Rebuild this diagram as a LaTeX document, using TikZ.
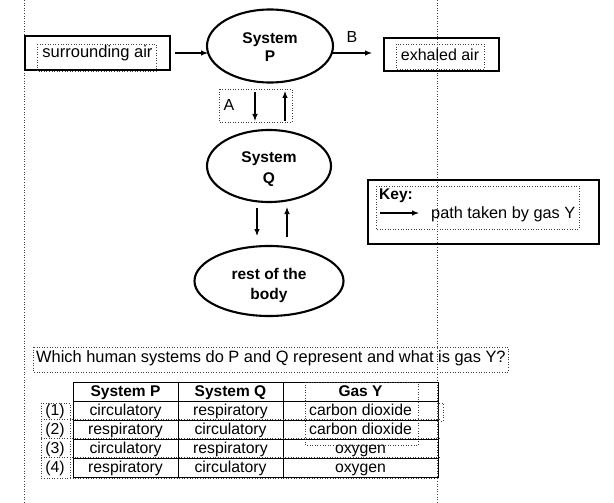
\documentclass[tikz,border=0pt]{standalone}
\usepackage{fontspec}
\setmainfont{Liberation Sans}
\usetikzlibrary{shapes.geometric,arrows.meta}
\begin{document}
\begin{tikzpicture}[x=1pt,y=-1pt,
  every node/.style={font=\fontsize{16}{18}\selectfont},
  ann/.style={draw=black!75, dotted, line width=0.6pt},
  sbox/.style={draw, line width=1.3pt, inner sep=0pt},
  sys/.style={ellipse, draw, line width=2.1pt, align=center, inner sep=0pt,
              font=\fontsize{15.5}{17}\selectfont\bfseries},
  arr/.style={-{Latex[length=7pt,width=5.5pt]}, line width=1.1pt},
  tline/.style={line width=1pt},
  cell/.style={inner sep=0pt},
  tcell/.style={inner sep=0pt, text height=11.5pt, text depth=3.5pt,
                font=\fontsize{15.8}{17}\selectfont},
  thead/.style={tcell, font=\fontsize{15.5}{17}\selectfont\bfseries}]
\useasboundingbox (0,0) rectangle (614,503);
\fill[white] (0,0) rectangle (614,503);

% annotation guide lines
\draw[ann] (24,0) -- (24,503);
\draw[ann] (437,0) -- (437,503);

% top row
\node[sbox, minimum width=145pt, minimum height=34pt] (sa) at (97.5,53) {};
\node[cell, font=\fontsize{16.5}{18}\selectfont] (satext) at (97.5,53) {surrounding air};
\draw[ann] (37,44) rectangle (156,71);

\node[sys, minimum width=126pt, minimum height=73pt] (P) at (270,46) {\rule{0pt}{14pt}System\\[1pt]P};
\node[sys, minimum width=124pt, minimum height=72pt] (Q) at (269,166) {\rule{0pt}{17pt}System\\[4pt]Q};
\node[sys, minimum width=149pt, minimum height=70pt] (R) at (269,281) {\rule{0pt}{20pt}rest of the\\[3pt]body};

\node[sbox, minimum width=115pt, minimum height=33pt] (ex) at (441.5,54.5) {};
\node[cell] (extext) at (440,55) {exhaled air};
\draw[ann] (396,44) rectangle (484,69);

\coordinate (saout) at (175,53);
\coordinate (pin) at (208,53);
\draw[arr] (saout) -- (pin);
\coordinate (pout) at (332,53);
\coordinate (exin) at (372,53);
\draw[arr] (pout) -- (exin);
\node[cell] (B) at (352,37) {B};

% A arrows
\draw[ann] (219,89) rectangle (292,122);
\node[cell] (A) at (229,105) {A};
\coordinate (a1) at (255,92);
\coordinate (a2) at (255,121);
\coordinate (a3) at (285,121);
\coordinate (a4) at (285,91);
\draw[arr] (a1) -- (a2);
\draw[arr] (a3) -- (a4);

% Q - rest arrows
\coordinate (b1) at (257,208);
\coordinate (b2) at (257,236);
\coordinate (b3) at (287,237);
\coordinate (b4) at (287,207);
\draw[arr] (b1) -- (b2);
\draw[arr] (b3) -- (b4);

% key
\node[sbox, minimum width=231pt, minimum height=64pt] (key) at (483.5,212) {};
\draw[ann] (376,186) rectangle (579,229);
\node[cell, anchor=west, font=\fontsize{15.5}{17}\selectfont\bfseries] (keyt) at (379,196) {Key:};
\coordinate (k1) at (380,213);
\coordinate (k2) at (419,213);
\draw[arr] (k1) -- (k2);
\node[cell, anchor=west, font=\fontsize{16.3}{18}\selectfont] (keyp) at (431,214) {path taken by gas Y};

% question
\draw[ann] (33,347) rectangle (508,372);
\node[cell, anchor=west, font=\fontsize{16.4}{18}\selectfont] (q) at (36,358) {Which human systems do P and Q represent and what is gas Y?};

% table
\draw[tline] (73,382) rectangle (438,477);
\foreach \yy in {401,420,439,458} \draw[tline] (73,\yy) -- (438,\yy);
\draw[tline] (178,382) -- (178,477);
\draw[tline] (283,382) -- (283,477);

\node[thead] (h1) at (125.5,392) {System P};
\node[thead] (h2) at (230.5,392) {System Q};
\node[thead] (h3) at (360.5,392) {Gas Y};

\node[tcell] (r1a) at (125.5,411) {circulatory};
\node[tcell] (r1b) at (230.5,411) {respiratory};
\node[tcell] (r1c) at (360.5,411) {carbon dioxide};
\node[tcell] (r2a) at (125.5,430) {respiratory};
\node[tcell] (r2b) at (230.5,430) {circulatory};
\node[tcell] (r2c) at (360.5,430) {carbon dioxide};
\node[tcell] (r3a) at (125.5,449) {circulatory};
\node[tcell] (r3b) at (230.5,449) {respiratory};
\node[tcell] (r3c) at (360.5,449) {oxygen};
\node[tcell] (r4a) at (125.5,468) {respiratory};
\node[tcell] (r4b) at (230.5,468) {circulatory};
\node[tcell] (r4c) at (360.5,468) {oxygen};

\node[tcell] (l1) at (55,411) {(1)};
\node[tcell] (l2) at (55,430) {(2)};
\node[tcell] (l3) at (55,449) {(3)};
\node[tcell] (l4) at (55,468) {(4)};

% table annotation boxes
\draw[ann] (41,403) rectangle (70,478);
\foreach \yy in {419.5,438.5,457.5} \draw[ann] (41,\yy) -- (440,\yy);
\draw[ann] (70,478) -- (438,478);
\draw[ann] (305,382) rectangle (418,445);
\draw[ann] (438,403) rectangle (443,421);
\end{tikzpicture}
\end{document}
